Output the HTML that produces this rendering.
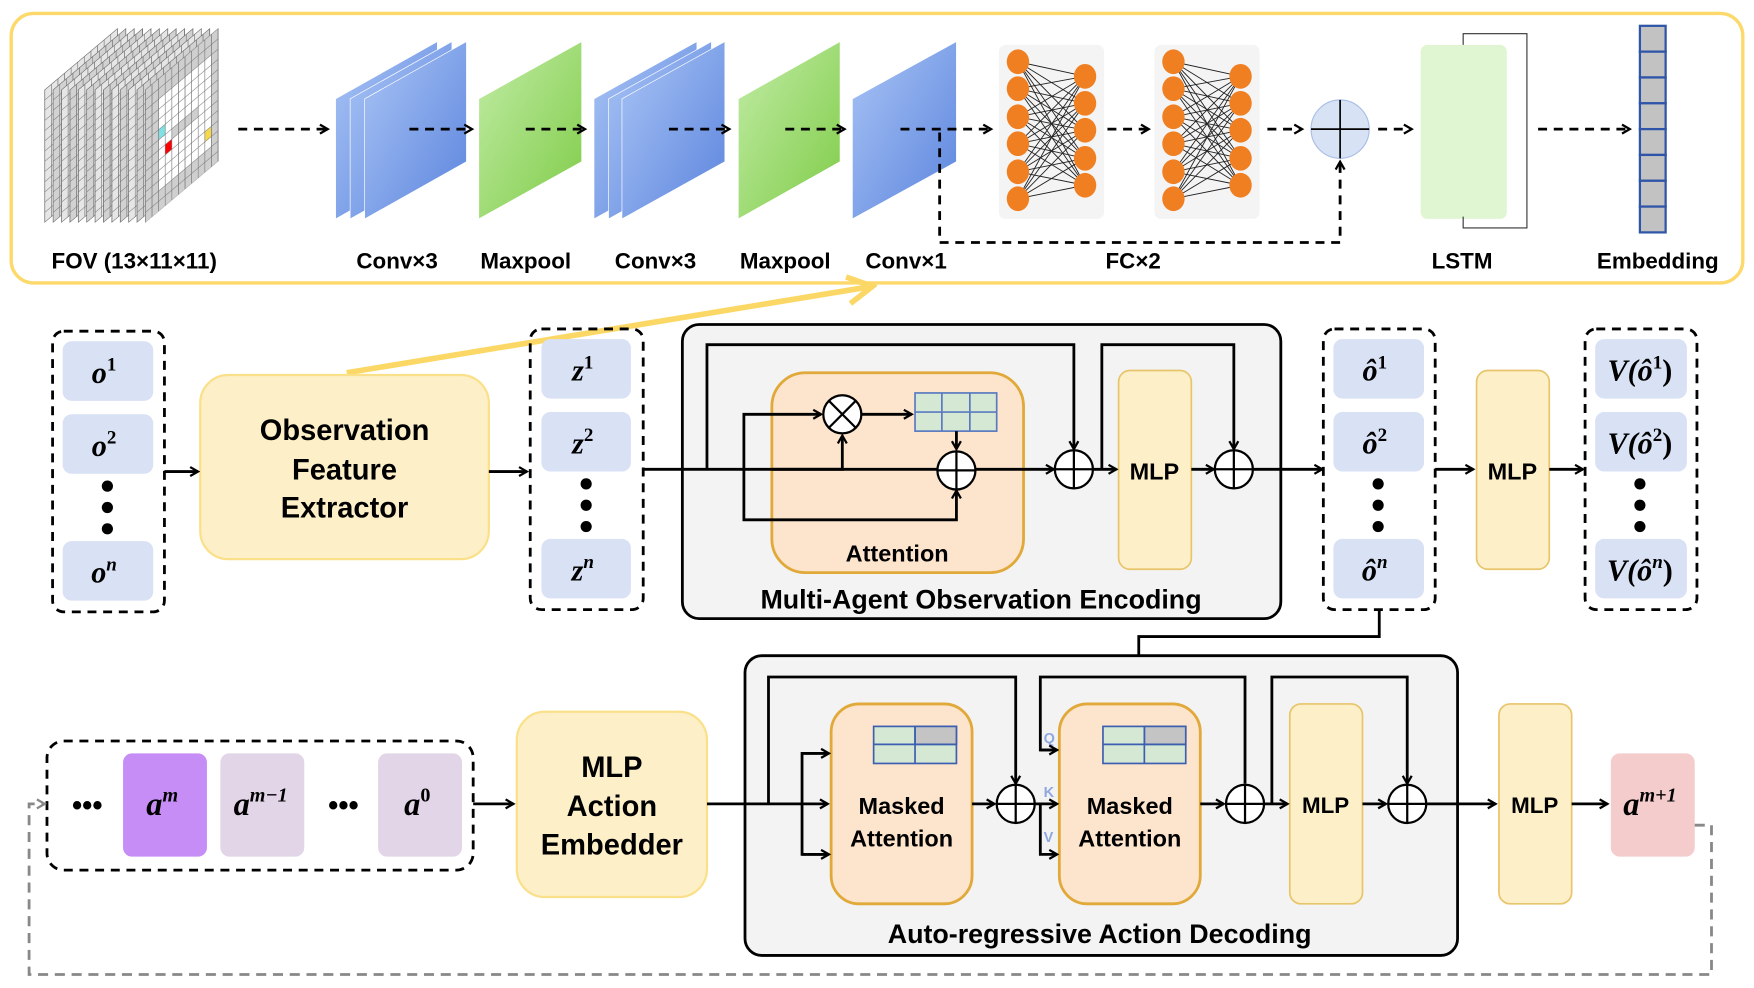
<!DOCTYPE html>
<html><head><meta charset="utf-8"><style>
html,body{margin:0;padding:0;background:#fff;}
svg{display:block;}
text{font-family:"Liberation Sans",sans-serif;font-weight:bold;fill:#000;}
.m{font-family:"Liberation Serif",serif;font-style:italic;font-weight:bold;}
.m tspan{font-style:normal;}
</style></head><body>
<svg id="s" width="1754" height="988" viewBox="0 0 1568 880" preserveAspectRatio="none" xmlns="http://www.w3.org/2000/svg">
<defs>
<marker id="a" markerWidth="10" markerHeight="10" refX="8" refY="5" orient="auto" markerUnits="userSpaceOnUse"><path d="M1,1 L8,5 L1,9" fill="none" stroke="#000" stroke-width="2"/></marker>
<marker id="ay" markerWidth="30" markerHeight="30" refX="26" refY="15" orient="auto" markerUnits="userSpaceOnUse"><path d="M4,3 L26,15 L4,27" fill="none" stroke="#fbd866" stroke-width="5"/></marker>
<marker id="ag" markerWidth="10" markerHeight="10" refX="8" refY="5" orient="auto" markerUnits="userSpaceOnUse"><path d="M1,1 L8,5 L1,9" fill="none" stroke="#888" stroke-width="2"/></marker>
<linearGradient id="gb" x1="0" y1="0" x2="1" y2="1"><stop offset="0" stop-color="#a9c4f5"/><stop offset="1" stop-color="#5b84dd"/></linearGradient>
<linearGradient id="gg" x1="0" y1="0" x2="1" y2="1"><stop offset="0" stop-color="#c2eca6"/><stop offset="1" stop-color="#7fcc48"/></linearGradient>
<pattern id="grid" width="5.9" height="9.1" patternUnits="userSpaceOnUse"><rect width="5.9" height="9.1" fill="none" stroke="#777" stroke-width="0.6"/></pattern>
</defs>
<rect x="10" y="12" width="1548" height="240" rx="20" fill="none" stroke="#fdd86a" stroke-width="3"/>
<g id="fov"></g>
<g id="sheets"></g>
<g stroke="#000" stroke-width="2.5" stroke-dasharray="8,6" fill="none" marker-end="url(#a)">
<line x1="213" y1="115" x2="293" y2="115"/>
<line x1="366" y1="115" x2="422" y2="115"/>
<line x1="470" y1="115" x2="523" y2="115"/>
<line x1="598" y1="115" x2="652" y2="115"/>
<line x1="702" y1="115" x2="755" y2="115"/>
<line x1="805" y1="115" x2="886" y2="115"/>
<line x1="990" y1="115" x2="1027" y2="115"/>
<line x1="1133" y1="115" x2="1164" y2="115"/>
<line x1="1232" y1="115" x2="1262" y2="115"/>
<line x1="1375" y1="115" x2="1457" y2="115"/>
<polyline points="840,118 840,216 1198,216 1198,144"/>
</g>
<rect x="893" y="40" width="94" height="155" rx="6" fill="#f4f4f4"/>
<rect x="1032" y="40" width="94" height="155" rx="6" fill="#f4f4f4"/>
<g id="nets"></g>
<ellipse cx="1198" cy="115" rx="26" ry="26" fill="#d8e2f5" stroke="#a8bde6" stroke-width="1"/>
<line x1="1172" y1="115" x2="1224" y2="115" stroke="#000" stroke-width="1.5"/>
<line x1="1198" y1="89" x2="1198" y2="141" stroke="#000" stroke-width="1.5"/>
<rect x="1270" y="40" width="77" height="155" rx="6" fill="#e0f6d2"/>
<polyline points="1308,193 1308,203 1365,203 1365,30 1308,30 1308,40" fill="none" stroke="#333" stroke-width="1"/>
<g id="emb"></g>
<g font-size="20">
<text x="120" y="239" text-anchor="middle">FOV (13×11×11)</text>
<text x="355" y="239" text-anchor="middle">Conv×3</text>
<text x="470" y="239" text-anchor="middle">Maxpool</text>
<text x="586" y="239" text-anchor="middle">Conv×3</text>
<text x="702" y="239" text-anchor="middle">Maxpool</text>
<text x="810" y="239" text-anchor="middle">Conv×1</text>
<text x="1013" y="239" text-anchor="middle">FC×2</text>
<text x="1307" y="239" text-anchor="middle">LSTM</text>
<text x="1482" y="239" text-anchor="middle">Embedding</text>
</g>
<line x1="310" y1="332" x2="780" y2="255" stroke="#fbd866" stroke-width="5" marker-end="url(#ay)"/>

<g fill="none" stroke="#000" stroke-width="2.5" stroke-dasharray="8,6">
<rect x="47" y="295" width="100" height="250" rx="10"/>
<rect x="474" y="293" width="101" height="250" rx="10"/>
<rect x="1183" y="293" width="100" height="250" rx="10"/>
<rect x="1417" y="293" width="100" height="250" rx="10"/>
<rect x="42" y="660" width="381" height="115" rx="15"/>
</g>
<g fill="#d9e1f4">
<rect x="56" y="304" width="81" height="53" rx="8"/><rect x="56" y="369" width="81" height="53" rx="8"/><rect x="56" y="482" width="81" height="53" rx="8"/>
<rect x="484" y="302" width="80" height="53" rx="8"/><rect x="484" y="367" width="80" height="53" rx="8"/><rect x="484" y="480" width="80" height="53" rx="8"/>
<rect x="1192" y="302" width="81" height="53" rx="8"/><rect x="1192" y="367" width="81" height="53" rx="8"/><rect x="1192" y="480" width="81" height="53" rx="8"/>
<rect x="1426" y="302" width="82" height="53" rx="8"/><rect x="1426" y="367" width="82" height="53" rx="8"/><rect x="1426" y="480" width="82" height="53" rx="8"/>
</g>
<g fill="#000">
<circle cx="96" cy="433" r="5"/><circle cx="96" cy="452" r="5"/><circle cx="96" cy="471" r="5"/>
<circle cx="524" cy="431" r="5"/><circle cx="524" cy="450" r="5"/><circle cx="524" cy="469" r="5"/>
<circle cx="1232" cy="431" r="5"/><circle cx="1232" cy="450" r="5"/><circle cx="1232" cy="469" r="5"/>
<circle cx="1466" cy="431" r="5"/><circle cx="1466" cy="450" r="5"/><circle cx="1466" cy="469" r="5"/>
</g>
<g font-size="27" text-anchor="middle">
<text class="m" x="93" y="341">o<tspan font-size="17" dy="-11">1</tspan></text>
<text class="m" x="93" y="406">o<tspan font-size="17" dy="-11">2</tspan></text>
<text class="m" x="93" y="519">o<tspan font-size="17" dy="-11" style="font-style:italic">n</tspan></text>
<text class="m" x="521" y="339">z<tspan font-size="17" dy="-11">1</tspan></text>
<text class="m" x="521" y="404">z<tspan font-size="17" dy="-11">2</tspan></text>
<text class="m" x="521" y="517">z<tspan font-size="17" dy="-11" style="font-style:italic">n</tspan></text>
<text class="m" x="1229" y="339">ô<tspan font-size="17" dy="-11">1</tspan></text>
<text class="m" x="1229" y="404">ô<tspan font-size="17" dy="-11">2</tspan></text>
<text class="m" x="1229" y="517">ô<tspan font-size="17" dy="-11" style="font-style:italic">n</tspan></text>
<text class="m" x="1466" y="339">V(ô<tspan font-size="17" dy="-11">1</tspan><tspan dy="11">)</tspan></text>
<text class="m" x="1466" y="404">V(ô<tspan font-size="17" dy="-11">2</tspan><tspan dy="11">)</tspan></text>
<text class="m" x="1466" y="517">V(ô<tspan font-size="17" dy="-11" style="font-style:italic">n</tspan><tspan dy="11">)</tspan></text>
</g>
<rect x="179" y="334" width="258" height="164" rx="25" fill="#fdf0c9" stroke="#fbe08a" stroke-width="2"/>
<g font-size="26" text-anchor="middle"><text x="308" y="392">Observation</text><text x="308" y="427">Feature</text><text x="308" y="461">Extractor</text></g>

<rect x="610" y="289" width="535" height="262" rx="15" fill="#f3f3f3" stroke="#000" stroke-width="2.5"/>
<rect x="690" y="332" width="225" height="178" rx="30" fill="#fde4cc" stroke="#e0a93a" stroke-width="2.5"/>
<text x="802" y="500" font-size="21" text-anchor="middle">Attention</text>
<text x="877" y="542" font-size="24" text-anchor="middle">Multi-Agent Observation Encoding</text>
<rect x="1000" y="330" width="65" height="177" rx="10" fill="#fdf0c9" stroke="#e8c46a" stroke-width="1.5"/>
<text x="1032" y="427" font-size="21" text-anchor="middle">MLP</text>
<rect x="1320" y="330" width="65" height="177" rx="10" fill="#fdf0c9" stroke="#e8c46a" stroke-width="1.5"/>
<text x="1352" y="427" font-size="21" text-anchor="middle">MLP</text>
<g stroke="#5a7ac0" stroke-width="1.5" fill="#d5e8d4"><rect x="818" y="350" width="73" height="34"/><line x1="818" y1="367" x2="891" y2="367"/><line x1="842" y1="350" x2="842" y2="384"/><line x1="867" y1="350" x2="867" y2="384"/></g>
<g fill="none" stroke="#000" stroke-width="2.5">
<line x1="147" y1="420" x2="177" y2="420" marker-end="url(#a)"/>
<line x1="437" y1="420" x2="471" y2="420" marker-end="url(#a)"/>
<line x1="575" y1="418" x2="942" y2="418" marker-end="url(#a)"/>
<polyline points="632,418 632,307 960,307 960,400" marker-end="url(#a)"/>
<polyline points="665,418 665,369 734,369" marker-end="url(#a)"/>
<polyline points="665,418 665,463 855,463 855,437" marker-end="url(#a)"/>
<polyline points="690,418 753,418 753,388" marker-end="url(#a)"/>
<line x1="770" y1="369" x2="815" y2="369" marker-end="url(#a)"/>
<line x1="855" y1="384" x2="855" y2="400" marker-end="url(#a)"/>
<line x1="977" y1="418" x2="998" y2="418" marker-end="url(#a)"/>
<polyline points="985,418 985,307 1103,307 1103,400" marker-end="url(#a)"/>
<line x1="1065" y1="418" x2="1085" y2="418" marker-end="url(#a)"/>
<line x1="1120" y1="418" x2="1182" y2="418" marker-end="url(#a)"/>
<line x1="1283" y1="418" x2="1317" y2="418" marker-end="url(#a)"/>
<line x1="1385" y1="418" x2="1415" y2="418" marker-end="url(#a)"/>
<polyline points="1233,543 1233,567 1018,567 1018,603"/>
</g>
<g fill="#fff" stroke="#000" stroke-width="2">
<circle cx="753" cy="369" r="17"/><circle cx="855" cy="419" r="17"/><circle cx="960" cy="418" r="17"/><circle cx="1103" cy="418" r="17"/>
</g>
<g stroke="#000" stroke-width="2">
<line x1="741" y1="357" x2="765" y2="381"/><line x1="765" y1="357" x2="741" y2="381"/>
<line x1="838" y1="419" x2="872" y2="419"/><line x1="855" y1="402" x2="855" y2="436"/>
<line x1="943" y1="418" x2="977" y2="418"/><line x1="960" y1="401" x2="960" y2="435"/>
<line x1="1086" y1="418" x2="1120" y2="418"/><line x1="1103" y1="401" x2="1103" y2="435"/>
</g>

<text x="78" y="726" font-size="26" text-anchor="middle">•••</text>
<text x="307" y="726" font-size="26" text-anchor="middle">•••</text>
<rect x="110" y="671" width="75" height="92" rx="8" fill="#c68df7"/>
<rect x="197" y="671" width="75" height="92" rx="8" fill="#e1d5e7"/>
<rect x="338" y="671" width="75" height="92" rx="8" fill="#e1d5e7"/>
<rect x="1440" y="671" width="75" height="92" rx="8" fill="#f4cccc"/>
<g font-size="29" text-anchor="middle">
<text class="m" x="145" y="726">a<tspan font-size="18" dy="-12" style="font-style:italic">m</tspan></text>
<text class="m" x="233" y="726">a<tspan font-size="18" dy="-12" style="font-style:italic">m−1</tspan></text>
<text class="m" x="373" y="726">a<tspan font-size="18" dy="-12">0</tspan></text>
<text class="m" x="1475" y="726">a<tspan font-size="18" dy="-12" style="font-style:italic">m+1</tspan></text>
</g>
<rect x="462" y="634" width="170" height="165" rx="25" fill="#fdf0c9" stroke="#fbe08a" stroke-width="2"/>
<g font-size="26" text-anchor="middle"><text x="547" y="692">MLP</text><text x="547" y="727">Action</text><text x="547" y="761">Embedder</text></g>
<rect x="666" y="584" width="637" height="267" rx="15" fill="#f3f3f3" stroke="#000" stroke-width="2.5"/>
<rect x="743" y="627" width="126" height="178" rx="25" fill="#fde4cc" stroke="#e0a93a" stroke-width="2.5"/>
<rect x="947" y="627" width="126" height="178" rx="25" fill="#fde4cc" stroke="#e0a93a" stroke-width="2.5"/>
<g stroke="#3c5fb0" stroke-width="1.5" fill="#d5e8d4">
<rect x="781" y="647" width="74" height="33"/><rect x="818" y="647" width="37" height="16" fill="#c4c4c4"/><line x1="781" y1="663" x2="855" y2="663"/><line x1="818" y1="647" x2="818" y2="680"/>
<rect x="986" y="647" width="74" height="33"/><rect x="1023" y="647" width="37" height="16" fill="#c4c4c4"/><line x1="986" y1="663" x2="1060" y2="663"/><line x1="1023" y1="647" x2="1023" y2="680"/>
</g>
<g font-size="21" text-anchor="middle"><text x="806" y="725">Masked</text><text x="806" y="754">Attention</text><text x="1010" y="725">Masked</text><text x="1010" y="754">Attention</text></g>
<rect x="1153" y="627" width="65" height="178" rx="10" fill="#fdf0c9" stroke="#e8c46a" stroke-width="1.5"/>
<text x="1185" y="724" font-size="20" text-anchor="middle">MLP</text>
<rect x="1340" y="627" width="65" height="178" rx="10" fill="#fdf0c9" stroke="#e8c46a" stroke-width="1.5"/>
<text x="1372" y="724" font-size="20" text-anchor="middle">MLP</text>
<text x="983" y="840" font-size="24" text-anchor="middle">Auto-regressive Action Decoding</text>
<g font-size="13" font-weight="normal"><text x="933" y="662" style="fill:#8fa8e0">Q</text><text x="933" y="710" style="fill:#8fa8e0">K</text><text x="933" y="750" style="fill:#8fa8e0">V</text></g>
<g fill="none" stroke="#000" stroke-width="2.5">
<line x1="423" y1="716" x2="459" y2="716" marker-end="url(#a)"/>
<line x1="632" y1="716" x2="740" y2="716" marker-end="url(#a)"/>
<polyline points="687,716 687,603 908,603 908,698" marker-end="url(#a)"/>
<polyline points="740,671 717,671 717,761 740,761" />
<line x1="717" y1="671" x2="741" y2="671" marker-end="url(#a)"/>
<line x1="717" y1="761" x2="741" y2="761" marker-end="url(#a)"/>
<line x1="869" y1="716" x2="889" y2="716" marker-end="url(#a)"/>
<line x1="925" y1="716" x2="945" y2="716" marker-end="url(#a)"/>
<polyline points="945,668 930,668 930,603 1113,603 1113,698"/>
<line x1="930" y1="668" x2="945" y2="668" marker-end="url(#a)"/>
<polyline points="930,716 930,761 945,761" marker-end="url(#a)"/>
<line x1="1073" y1="716" x2="1094" y2="716" marker-end="url(#a)"/>
<line x1="1130" y1="716" x2="1151" y2="716" marker-end="url(#a)"/>
<polyline points="1137,716 1137,603 1258,603 1258,698" marker-end="url(#a)"/>
<line x1="1218" y1="716" x2="1239" y2="716" marker-end="url(#a)"/>
<line x1="1275" y1="716" x2="1337" y2="716" marker-end="url(#a)"/>
<line x1="1405" y1="716" x2="1437" y2="716" marker-end="url(#a)"/>
</g>
<g fill="#fff" stroke="#000" stroke-width="2">
<circle cx="908" cy="716" r="17"/><circle cx="1113" cy="716" r="17"/><circle cx="1258" cy="716" r="17"/>
</g>
<g stroke="#000" stroke-width="2">
<line x1="891" y1="716" x2="925" y2="716"/><line x1="908" y1="699" x2="908" y2="733"/>
<line x1="1096" y1="716" x2="1130" y2="716"/><line x1="1113" y1="699" x2="1113" y2="733"/>
<line x1="1241" y1="716" x2="1275" y2="716"/><line x1="1258" y1="699" x2="1258" y2="733"/>
</g>
<polyline points="1515,735 1530,735 1530,868 26,868 26,716 40,716" fill="none" stroke="#888" stroke-width="2.5" stroke-dasharray="9,6" marker-end="url(#ag)"/>
</svg>
<script>
var NS="http://www.w3.org/2000/svg";
function el(p,t,a){var e=document.createElementNS(NS,t);for(var k in a)e.setAttribute(k,a[k]);p.appendChild(e);return e;}
var sh=document.getElementById("sheets");
function sheet(l,r,f){el(sh,"polygon",{points:l+",88 "+r+",37 "+r+",144 "+l+",195",fill:f,stroke:"#fff","stroke-width":"0.6"});}
[300,313,326].forEach(function(x){sheet(x,x+91,"url(#gb)");});
sheet(428,520,"url(#gg)");
[531,544,556].forEach(function(x){sheet(x,x+92,"url(#gb)");});
sheet(660,751,"url(#gg)");
sheet(762,855,"url(#gb)");
// FOV: layers as skewed sheets, left to right
var f=document.getElementById("fov");
var N=13;
for(var i=0;i<N;i++){var ox=40+i*7.5, oy=80;
 var g=el(f,"g",{transform:"translate("+ox+","+oy+") skewY(-40)"});
 var last=(i==N-1);
 el(g,"rect",{x:0,y:0,width:65,height:118,fill:(last?"#fff":(i%2?"#d2d2d2":"#e6e6e6")),stroke:"#666","stroke-width":"0.6"});
 if(last){
  for(var r=0;r<13;r++)for(var c=0;c<11;c++){var gr=(r<2||r>10||c<2||c>9||(r==6&&c>3&&c<8));
   if(gr)el(g,"rect",{x:c*5.9,y:r*9.1,width:5.9,height:9.1,fill:"#cfcfcf"});}
  el(g,"rect",{x:2*5.9,y:5*9.1,width:5.9,height:9.1,fill:"#7fe0e6"});
  el(g,"rect",{x:3*5.9,y:7*9.1,width:5.9,height:9.1,fill:"#f00"});
  el(g,"rect",{x:9*5.9,y:9*9.1,width:5.9,height:9.1,fill:"#f5d94a"});
 }
 el(g,"rect",{x:0,y:0,width:65,height:118,fill:"url(#grid)"});
}
// nets
var n=document.getElementById("nets");
[0,139].forEach(function(o){var L=[55,79,104,128,153,177],R=[68,92,116,141,165];
 L.forEach(function(a){R.forEach(function(b){el(n,"line",{x1:910+o,y1:a,x2:970+o,y2:b,stroke:"#222","stroke-width":"0.8"});});});
 L.forEach(function(a){el(n,"ellipse",{cx:910+o,cy:a,rx:10,ry:11,fill:"#f07f22"});});
 R.forEach(function(b){el(n,"ellipse",{cx:970+o,cy:b,rx:10,ry:11,fill:"#f07f22"});});});
var e=document.getElementById("emb");
for(var k=0;k<8;k++)el(e,"rect",{x:1466,y:23+k*23,width:23,height:23,fill:"#c2c2c2",stroke:"#2f55a8","stroke-width":"2"});
</script>
</body></html>
